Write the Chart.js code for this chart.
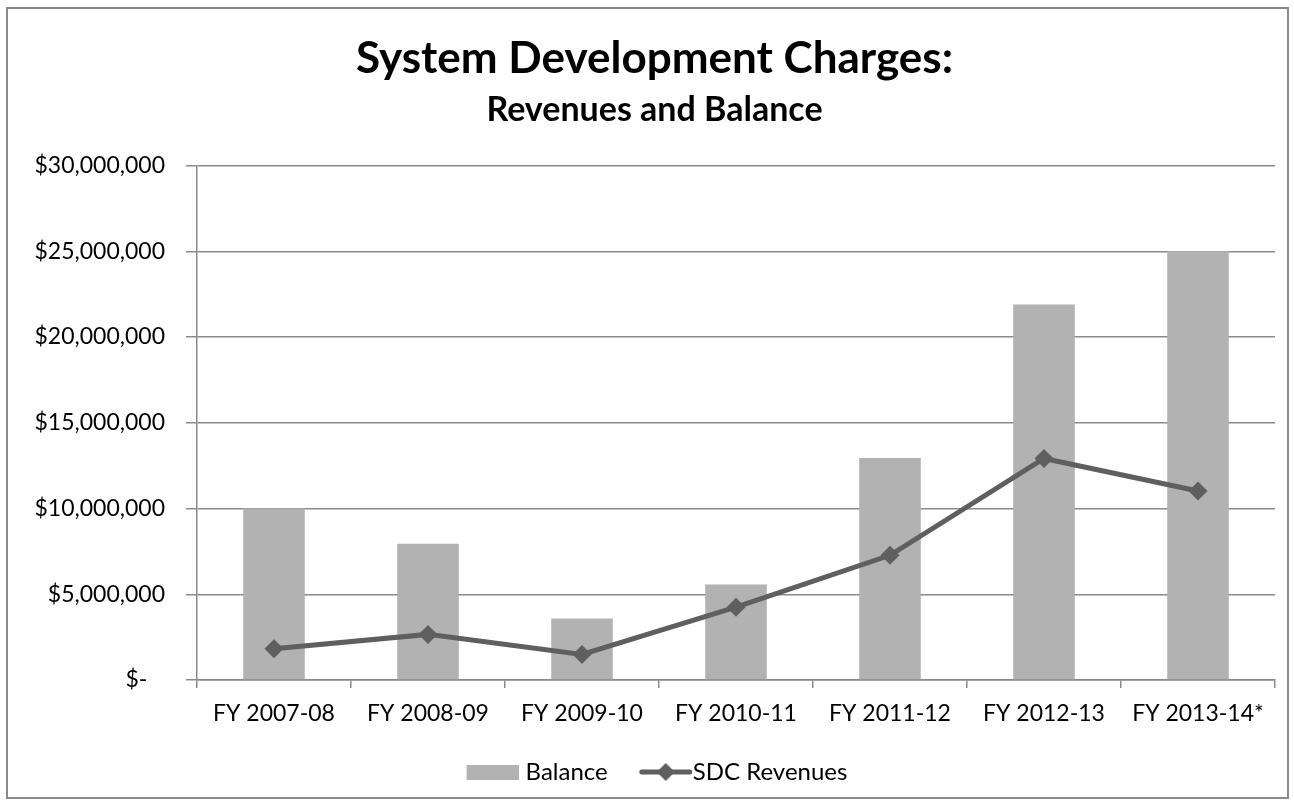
<!DOCTYPE html>
<html>
<head>
<meta charset="utf-8">
<script src="https://cdn.jsdelivr.net/npm/chart.js@4.4.1/dist/chart.umd.min.js"></script>
<style>
  body { margin: 0; background: #fff; }
  #frame { position: absolute; left: 6px; top: 7px; width: 1279px; height: 788px; border: 2px solid #8a8a8a; }
  #grafico { position: absolute; left: 0; top: 0; }
</style>
</head>
<body>
<div id="frame"></div>
<canvas id="grafico" width="1294" height="804"></canvas>
<script>
const anos = ["FY 2007-08", "FY 2008-09", "FY 2009-10", "FY 2010-11", "FY 2011-12", "FY 2012-13", "FY 2013-14*"];
const saldo = [10000000, 7950000, 3580000, 5570000, 12950000, 21900000, 25000000];
const receitas = [1820000, 2660000, 1490000, 4250000, 7270000, 12920000, 11020000];
const ticksY = [0, 5000000, 10000000, 15000000, 20000000, 25000000, 30000000];

const corBarra = "#b2b2b2";
const corLinha = "#5f5f5f";
const corGrade = "#8a8a8a";
const fonte = "Lato";

// icones da legenda: o desenho fica encostado a direita para aproximar do texto
function iconeBarra() {
    const c = document.createElement("canvas");
    c.width = 62; c.height = 15;
    const g = c.getContext("2d");
    g.fillStyle = corBarra;
    g.fillRect(10, 0, 52, 15);
    return c;
}

function iconeLinha() {
    const c = document.createElement("canvas");
    c.width = 74; c.height = 20;
    const g = c.getContext("2d");
    g.strokeStyle = corLinha;
    g.lineWidth = 5;
    g.lineCap = "round";
    g.beginPath();
    g.moveTo(24, 10); g.lineTo(72, 10);
    g.stroke();
    g.fillStyle = corLinha;
    g.beginPath();
    g.moveTo(48, 1); g.lineTo(57, 10); g.lineTo(48, 19); g.lineTo(39, 10);
    g.closePath();
    g.fill();
    return c;
}

function formatarDolar(v) {
    if (v === 0) return "$-   ";
    return "$" + v.toLocaleString("en-US");
}

const ctx = document.getElementById("grafico").getContext("2d");
const grafico = new Chart(ctx, {
    type: "bar",
    data: {
        labels: anos,
        datasets: [
            {
                label: "Balance",
                data: saldo,
                backgroundColor: corBarra,
                categoryPercentage: 1,
                barPercentage: 0.40,
                order: 1
            },
            {
                type: "line",
                label: "SDC Revenues",
                data: receitas,
                borderColor: corLinha,
                backgroundColor: corLinha,
                borderWidth: 5,
                pointStyle: "rectRot",
                pointRadius: 9.5,
                pointBorderWidth: 0,
                pointBackgroundColor: corLinha,
                tension: 0,
                order: 0
            }
        ]
    },
    options: {
        responsive: false,
        animation: false,
        layout: { padding: { left: 34, right: 19, top: 0, bottom: 10 } },
        plugins: {
            tooltip: { enabled: false },
            title: {
                display: true,
                text: "System Development Charges:",
                color: "#000",
                font: { family: fonte, size: 44, weight: "bold", lineHeight: 1.2 },
                padding: { top: 32, bottom: 0 }
            },
            subtitle: {
                display: true,
                text: "Revenues and Balance",
                color: "#000",
                font: { family: fonte, size: 34, weight: "bold", lineHeight: 1.2 },
                padding: { top: 5, bottom: 35 }
            },
            legend: {
                position: "bottom",
                labels: {
                    color: "#000",
                    font: { family: fonte, size: 24 },
                    usePointStyle: true,
                    pointStyleWidth: 52,
                    padding: 21,
                    generateLabels: () => [
                        { text: "Balance", pointStyle: iconeBarra(), fillStyle: corBarra, strokeStyle: corBarra, lineWidth: 0, datasetIndex: 0 },
                        { text: "SDC Revenues", pointStyle: iconeLinha(), fillStyle: corLinha, strokeStyle: corLinha, lineWidth: 0, datasetIndex: 1 }
                    ]
                }
            }
        },
        scales: {
            x: {
                grid: {
                    offset: true,
                    drawOnChartArea: false,
                    drawTicks: true,
                    tickLength: 8,
                    color: corGrade,
                    lineWidth: 1.5
                },
                border: { display: true, color: corGrade, width: 1.5 },
                ticks: {
                    color: "#000",
                    font: { family: fonte, size: 23 },
                    padding: 12,
                    maxRotation: 0,
                    autoSkip: false
                },
                afterFit: scale => { scale.height = 59; }
            },
            y: {
                min: 0,
                max: 30000000,
                afterBuildTicks: scale => { scale.ticks = ticksY.map(v => ({ value: v })); },
                grid: {
                    color: corGrade,
                    lineWidth: 1.5,
                    drawTicks: true,
                    tickLength: 11
                },
                border: { display: true, color: corGrade, width: 1.5 },
                ticks: {
                    color: "#000",
                    font: { family: fonte, size: 23 },
                    padding: 21,
                    callback: v => formatarDolar(v)
                },
                afterFit: scale => { scale.width = 163; }
            }
        }
    }
});
</script>
</body>
</html>
